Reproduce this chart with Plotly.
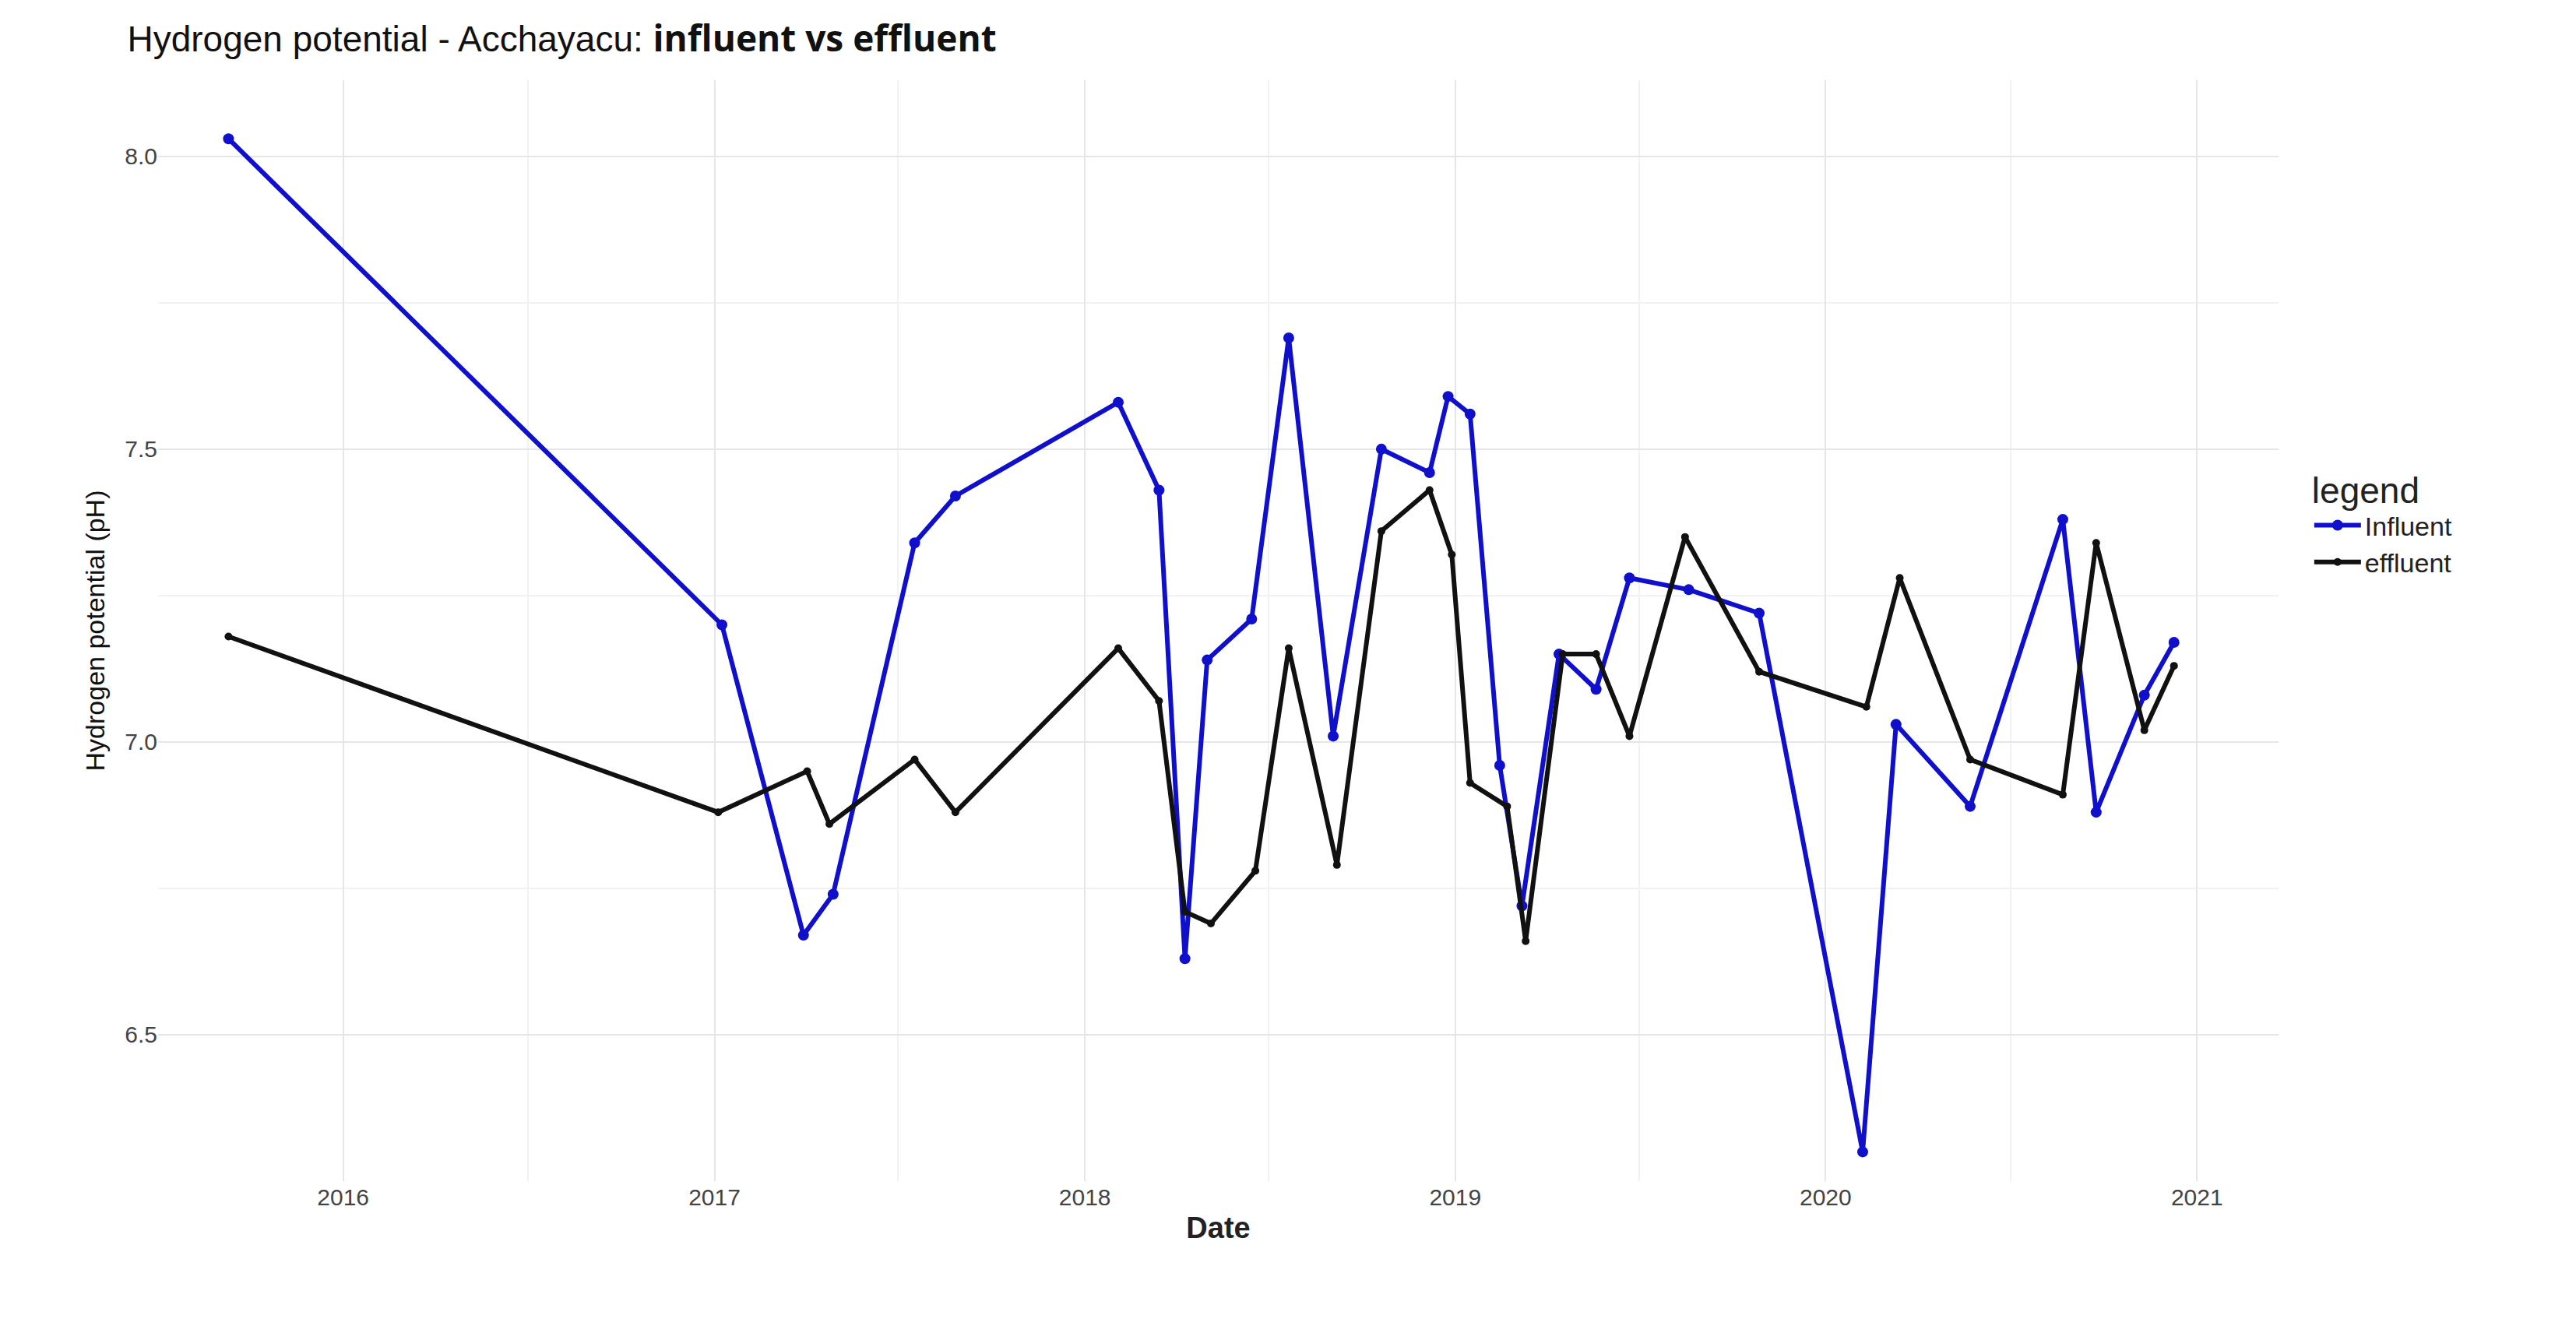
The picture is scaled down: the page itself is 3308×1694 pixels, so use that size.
import plotly.graph_objects as go
import pandas as pd

inf_t = [2015.69,2017.02,2017.24,2017.32,2017.54,2017.65,2018.09,2018.20,2018.27,2018.33,2018.45,2018.55,2018.67,2018.80,2018.93,2018.98,2019.04,2019.12,2019.18,2019.28,2019.38,2019.47,2019.63,2019.82,2020.10,2020.19,2020.39,2020.64,2020.73,2020.86,2020.94]
inf_v = [8.03,7.20,6.67,6.74,7.34,7.42,7.58,7.43,6.63,7.14,7.21,7.69,7.01,7.50,7.46,7.59,7.56,6.96,6.72,7.15,7.09,7.28,7.26,7.22,6.30,7.03,6.89,7.38,6.88,7.08,7.17]
eff_t = [2015.69,2017.01,2017.25,2017.31,2017.54,2017.65,2018.09,2018.20,2018.27,2018.34,2018.46,2018.55,2018.68,2018.80,2018.93,2018.99,2019.04,2019.14,2019.19,2019.29,2019.38,2019.47,2019.62,2019.82,2020.11,2020.20,2020.39,2020.64,2020.73,2020.86,2020.94]
eff_v = [7.18,6.88,6.95,6.86,6.97,6.88,7.16,7.07,6.71,6.69,6.78,7.16,6.79,7.36,7.43,7.32,6.93,6.89,6.66,7.15,7.15,7.01,7.35,7.12,7.06,7.28,6.97,6.91,7.34,7.02,7.13]

def to_date(t):
    y = int(t)
    return pd.Timestamp(year=y, month=1, day=1) + pd.Timedelta(days=(t - y) * 365.25)

fig = go.Figure()
fig.add_trace(go.Scatter(x=[to_date(t) for t in inf_t], y=inf_v, name="Influent", mode="lines+markers",
                         line=dict(color="#1010cc", width=6), marker=dict(size=14, color="#1010cc")))
fig.add_trace(go.Scatter(x=[to_date(t) for t in eff_t], y=eff_v, name="effluent", mode="lines+markers",
                         line=dict(color="#111111", width=6), marker=dict(size=10, color="#111111")))

fig.update_layout(
    width=3308, height=1694, plot_bgcolor="white", paper_bgcolor="white",
    margin=dict(l=195, r=390, t=95, b=185),
    font=dict(family="Liberation Sans, Arial", color="#333"),
    title=dict(text="Hydrogen potential - Acchayacu: <span style='font-family:Liberation Sans Narrow, Open Sans;font-weight:bold'><b>influent vs effluent</b></span>",
               x=0.047, xanchor="left", y=0.985, yanchor="top", font=dict(size=46, color="#111")),
    legend=dict(title=dict(text="legend  ", font=dict(size=46, color="#222")), font=dict(size=34, color="#222"),
                x=1.015, y=0.6, xanchor="left", yanchor="middle", tracegroupgap=20, itemwidth=60),
    xaxis=dict(title=dict(text="<b>Date</b>", font=dict(size=38, color="#222"), standoff=10),
               range=[to_date(2015.5), to_date(2021.22)], tickformat="%Y", dtick="M12",
               tick0="2016-01-01", tickfont=dict(size=30, color="#444"), showgrid=True,
               gridcolor="#e6e6e6", gridwidth=2, zeroline=False, ticks="",
               minor=dict(dtick="M6", tick0="2015-07-01", showgrid=True, gridcolor="#f2f2f2", gridwidth=1.5)),
    yaxis=dict(title=dict(text="Hydrogen potential (pH)", font=dict(size=34, color="#111", family="Liberation Sans Narrow, Arial")),
               range=[6.25, 8.13], dtick=0.5, tick0=6.5, tickformat=".1f", tickfont=dict(size=30, color="#444"),
               showgrid=True, gridcolor="#e6e6e6", gridwidth=2, zeroline=False,
               minor=dict(dtick=0.25, tick0=6.25, showgrid=True, gridcolor="#f2f2f2", gridwidth=1.5)),
)
fig.write_html("out.html")
